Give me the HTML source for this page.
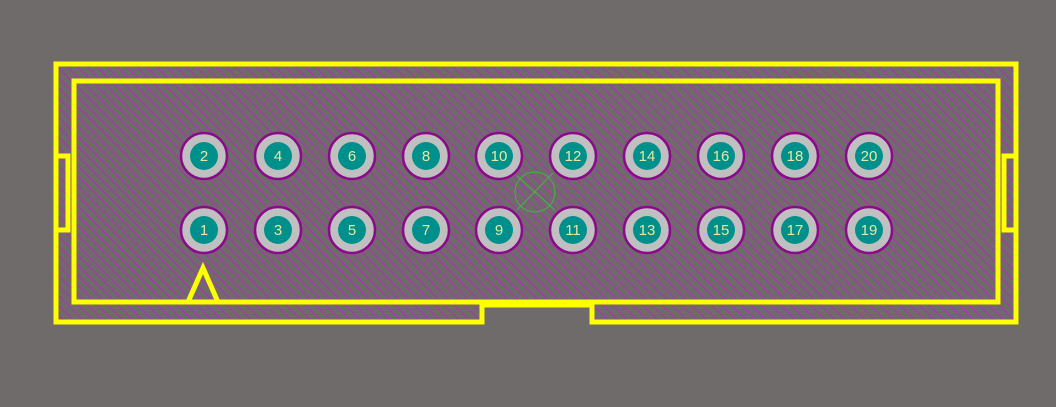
<!DOCTYPE html><html><head><style>body{margin:0;background:#6f6b6b}</style></head><body>
<svg width="1056" height="407" xmlns="http://www.w3.org/2000/svg" style="display:block">
<defs><pattern id="h" width="7" height="7" patternUnits="userSpaceOnUse" patternTransform="rotate(-45)"><rect width="7" height="7" fill="#6f6b6b"/><rect width="0.9" height="7" fill="#c020c8"/></pattern>
<g id="c"><circle r="23" fill="#c0c0c0" stroke="#8a0a8a" stroke-width="2.5"/><circle r="14" fill="#00908c"/></g></defs>
<rect width="1056" height="407" fill="#6f6b6b"/>
<path d="M56,64 H1016 V322 H592 V305 H482 V322 H56 Z" fill="url(#h)"/>
<g fill="none" stroke="#ffff00" stroke-width="5">
<path d="M56,64 H1016 V322 H592 V305 H482 V322 H56 Z"/>
<rect x="74" y="81" width="924" height="221"/>
<rect x="56" y="156" width="12" height="74"/>
<rect x="1004" y="156" width="12" height="74"/>
<path d="M188,302 L203,268 L218,302"/>
</g>
<g stroke="#33cc33" stroke-width="1" fill="none" opacity="0.8"><circle cx="535" cy="192" r="20"/><path d="M517,176 L555,210 M553,173 L517,210"/></g>
<use href="#c" x="204" y="156"/><use href="#c" x="278" y="156"/><use href="#c" x="352" y="156"/><use href="#c" x="426" y="156"/><use href="#c" x="499" y="156"/><use href="#c" x="573" y="156"/><use href="#c" x="647" y="156"/><use href="#c" x="721" y="156"/><use href="#c" x="795" y="156"/><use href="#c" x="869" y="156"/>
<use href="#c" x="204" y="230"/><use href="#c" x="278" y="230"/><use href="#c" x="352" y="230"/><use href="#c" x="426" y="230"/><use href="#c" x="499" y="230"/><use href="#c" x="573" y="230"/><use href="#c" x="647" y="230"/><use href="#c" x="721" y="230"/><use href="#c" x="795" y="230"/><use href="#c" x="869" y="230"/>
<g font-family="Liberation Sans, sans-serif" font-size="15" fill="#e8e8a0" text-anchor="middle">
<text x="204" y="161">2</text><text x="278" y="161">4</text><text x="352" y="161">6</text><text x="426" y="161">8</text><text x="499" y="161">10</text><text x="573" y="161">12</text><text x="647" y="161">14</text><text x="721" y="161">16</text><text x="795" y="161">18</text><text x="869" y="161">20</text>
<text x="204" y="235">1</text><text x="278" y="235">3</text><text x="352" y="235">5</text><text x="426" y="235">7</text><text x="499" y="235">9</text><text x="573" y="235">11</text><text x="647" y="235">13</text><text x="721" y="235">15</text><text x="795" y="235">17</text><text x="869" y="235">19</text>
</g>
</svg></body></html>
